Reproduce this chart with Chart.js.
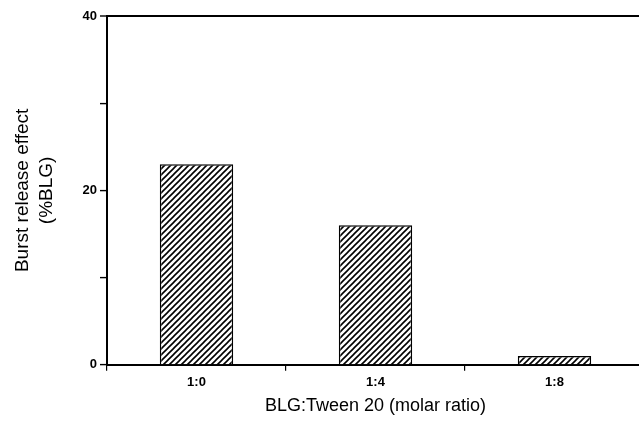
<!DOCTYPE html>
<html>
<head>
<meta charset="utf-8">
<script src="https://cdn.jsdelivr.net/npm/chart.js@4.4.0/dist/chart.umd.min.js"></script>
<style>
html,body{margin:0;padding:0;background:#fff;overflow:hidden;}
#wrap{width:650px;height:421px;position:relative;}
</style>
</head>
<body>
<div id="wrap"><canvas id="c"></canvas></div>
<script>
const categories = ["1:0", "1:4", "1:8"];
const burstValues = [23, 16, 1];
const yTickLabels = {0: "0", 20: "20", 40: "40"};

function hatch() {
  const s = 6;
  const p = document.createElement('canvas');
  p.width = s; p.height = s;
  const g = p.getContext('2d');
  g.fillStyle = '#fff'; g.fillRect(0,0,s,s);
  g.strokeStyle = '#000'; g.lineWidth = 1.6;
  g.beginPath();
  g.moveTo(-1, s+1); g.lineTo(s+1, -1);
  g.moveTo(-1, 1); g.lineTo(1, -1);
  g.moveTo(s-1, s+1); g.lineTo(s+1, s-1);
  g.stroke();
  return g.createPattern(p, 'repeat');
}

const FONT = 'Liberation Sans, Arial, sans-serif';
const ctx = document.getElementById('c').getContext('2d');
new Chart(ctx, {
  type: 'bar',
  data: {
    labels: categories,
    datasets: [{
      data: burstValues,
      backgroundColor: hatch(),
      borderColor: '#000',
      borderWidth: 1.5,
      barPercentage: 0.41,
      categoryPercentage: 1.0
    }]
  },
  options: {
    responsive: true,
    maintainAspectRatio: false,
    animation: false,
    layout: { padding: { top: 16, right: 6, left: 0, bottom: 4 } },
    plugins: { legend: { display: false }, tooltip: { enabled: false } },
    scales: {
      x: {
        offset: true,
        grid: { offset: true, drawOnChartArea: false, tickLength: 6, tickColor: '#000', lineWidth: 1.2 },
        border: { color: '#000', width: 2 },
        ticks: { color: '#000', font: { family: FONT, size: 13, weight: 'bold' }, padding: 4, maxRotation: 0 },
        title: { display: true, text: 'BLG:Tween 20 (molar ratio)', color: '#000', font: { family: FONT, size: 18 }, padding: { top: 1, bottom: 0 } }
      },
      y: {
        min: 0, max: 40,
        afterFit: (s) => { s.width = 107; },
        grid: {
          color: (c) => (c.tick && c.tick.value === 40) ? '#000' : 'rgba(0,0,0,0)',
          lineWidth: (c) => (c.tick && c.tick.value === 40) ? 2 : 1.2,
          tickColor: '#000', tickWidth: 1.4, tickLength: 7, drawTicks: true
        },
        border: { color: '#000', width: 2 },
        ticks: {
          stepSize: 10, color: '#000', padding: 3,
          font: { family: FONT, size: 13, weight: 'bold' },
          callback: (v) => (yTickLabels[v] !== undefined ? yTickLabels[v] : '')
        },
        title: { display: true, text: ['Burst release effect', '(%BLG)'], color: '#000', font: { family: FONT, size: 19, lineHeight: 1.3 }, padding: { top: 10, bottom: 10 } }
      }
    }
  }
});
</script>
</body>
</html>
